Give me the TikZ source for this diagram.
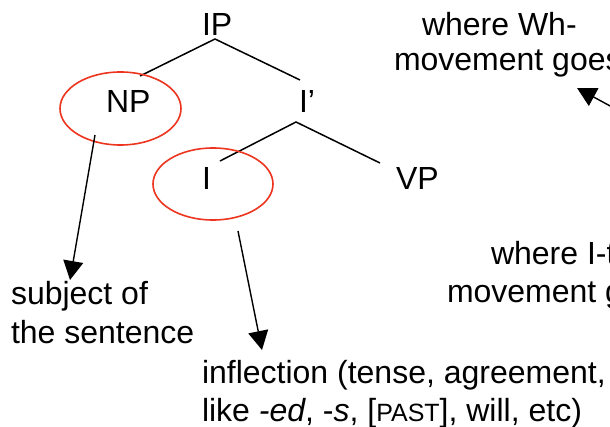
\documentclass[tikz,border=0pt]{standalone}
\usepackage{fontspec}
\setmainfont{Liberation Sans}
\usetikzlibrary{arrows.meta}
\definecolor{ellred}{RGB}{236,52,30}
\tikzset{
  lbl/.style={inner sep=0pt,outer sep=0pt,anchor=base west,font=\fontsize{32}{38}\selectfont},
  branch/.style={line width=1.5pt,black},
  circ/.style={line width=1.6pt,draw=ellred},
  pointer/.style={line width=1.4pt,-{Triangle[length=19pt,width=20pt]}}
}
\newcommand{\smc}[1]{{\fontsize{25}{28}\selectfont #1}}
\begin{document}
\begin{tikzpicture}[x=1pt,y=-1pt]
\useasboundingbox (0,0) rectangle (610,427);
\clip (0,0) rectangle (610,427);
% tree labels
\node[lbl] (ip) at (202,36) {IP};
\node[lbl] (np) at (106,113) {NP};
\node[lbl] (ibar) at (299,113) {I’};
\node[lbl] (i) at (202,190) {I};
\node[lbl] (vp) at (396,190) {VP};
% branch points
\coordinate (ipb) at (215,39);
\coordinate (npt) at (140,76);
\coordinate (ibart) at (300,80);
\coordinate (ibarb) at (296,122);
\coordinate (it) at (220,161);
\coordinate (vpt) at (380,163);
\draw[branch] (npt) -- (ipb) -- (ibart);
\draw[branch] (it) -- (ibarb) -- (vpt);
% ellipses
\draw[circ] (120.5,108.5) ellipse [x radius=60.5,y radius=36.5];
\draw[circ] (213,184) ellipse [x radius=60,y radius=36];
% annotations
\node[lbl] (wh1) at (422,36) {where Wh-};
\node[lbl] (wh2) at (394,71) {movement goes};
\node[lbl] (ic1) at (491,265) {where I-to-C};
\node[lbl] (ic2) at (447,303) {movement goes};
\node[lbl] (sub1) at (11,305) {subject of};
\node[lbl] (sub2) at (11,343) {the sentence};
\node[lbl] (inf1) at (202,383) {inflection (tense, agreement, etc)};
\node[lbl] (inf2) at (202,421) {like \textit{-ed}, -\textit{s}, [\smc{PAST}], will, etc)};
% arrows
\coordinate (npfrom) at (95,135);
\coordinate (subto) at (70,280);
\coordinate (ifrom) at (238,231);
\coordinate (infto) at (262,350);
\coordinate (whfrom) at (612,107);
\coordinate (whto) at (577,88);
\draw[pointer] (npfrom) -- (subto);
\draw[pointer] (ifrom) -- (infto);
\draw[pointer] (whfrom) -- (whto);
\end{tikzpicture}
\end{document}
